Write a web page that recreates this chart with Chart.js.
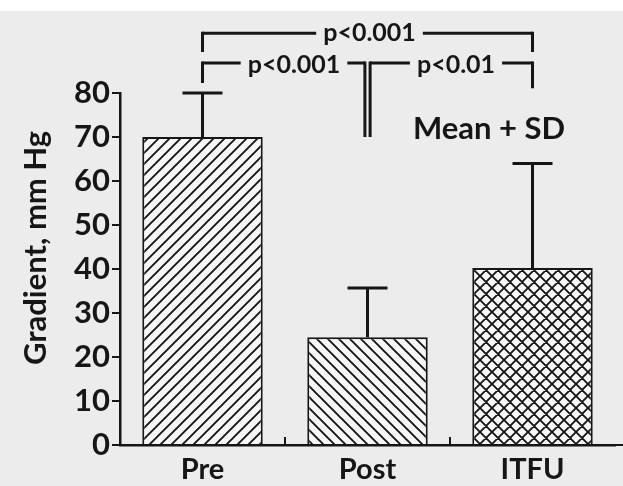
<!DOCTYPE html>
<html>
<head>
<meta charset="utf-8">
<script src="https://cdn.jsdelivr.net/npm/chart.js@4"></script>
<style>
  html, body { margin: 0; padding: 0; }
  body { width: 623px; height: 486px; background: linear-gradient(#ffffff 0, #ffffff 11px, #ececec 11px); }
</style>
</head>
<body>
<canvas id="gradientChart" width="623" height="486"></canvas>
<script>
// values (mm Hg)
const groups = ["Pre", "Post", "ITFU"];
const meanGradient = [70, 24.5, 40.2];
const sdGradient = [10, 11.2, 23.8];
const yTickLabels = [0, 10, 20, 30, 40, 50, 60, 70, 80];
// [from group, to group, label]
const comparisons = [
    [0, 2, "p<0.001"],
    [0, 1, "p<0.001"],
    [1, 2, "p<0.01"]
];
const yTitle = "Gradient, mm Hg";
const legendNote = "Mean + SD";

const ink = "#161616";
const FONT = "Lato, 'Open Sans', sans-serif";

function hatch(kind, period) {
    const c = document.createElement("canvas");
    c.width = period;
    c.height = period;
    const g = c.getContext("2d");
    g.fillStyle = "#f7f7f7";
    g.fillRect(0, 0, period, period);
    g.strokeStyle = ink;
    g.lineWidth = 1.9;
    const p = period;
    g.beginPath();
    if (kind === "up" || kind === "cross") {
        g.moveTo(-2, p + 2); g.lineTo(p + 2, -2);
        g.moveTo(-2, 2); g.lineTo(2, -2);
        g.moveTo(p - 2, p + 2); g.lineTo(p + 2, p - 2);
    }
    if (kind === "down" || kind === "cross") {
        g.moveTo(-2, -2); g.lineTo(p + 2, p + 2);
        g.moveTo(p - 2, -2); g.lineTo(p + 2, 2);
        g.moveTo(-2, p - 2); g.lineTo(2, p + 2);
    }
    g.stroke();
    return g.createPattern(c, "repeat");
}

const overlay = {
    id: "overlay",
    afterDatasetsDraw(chart) {
        const { ctx, chartArea } = chart;
        const x = chart.scales.x, y = chart.scales.y;
        ctx.save();
        ctx.strokeStyle = ink;
        ctx.fillStyle = ink;

        // error bars (mean + SD)
        ctx.lineWidth = 3;
        meanGradient.forEach((m, i) => {
            const cx = x.getPixelForValue(i);
            const y0 = y.getPixelForValue(m);
            const y1 = y.getPixelForValue(m + sdGradient[i]);
            ctx.beginPath();
            ctx.moveTo(cx, y0); ctx.lineTo(cx, y1);
            ctx.moveTo(cx - 20, y1); ctx.lineTo(cx + 20, y1);
            ctx.stroke();
        });

        // small inward ticks between categories, axis line to the edge
        ctx.lineWidth = 2;
        for (let i = 0; i < groups.length - 1; i++) {
            const bx = (x.getPixelForValue(i) + x.getPixelForValue(i + 1)) / 2;
            ctx.beginPath();
            ctx.moveTo(bx, chartArea.bottom);
            ctx.lineTo(bx, chartArea.bottom - 8);
            ctx.stroke();
        }
        ctx.beginPath();
        ctx.moveTo(chartArea.right - 2, chartArea.bottom);
        ctx.lineTo(chart.width, chartArea.bottom);
        ctx.stroke();

        // y axis title, a little above the axis middle as in the figure
        ctx.save();
        ctx.translate(36, 248);
        ctx.rotate(-Math.PI / 2);
        ctx.font = "bold 31px " + FONT;
        ctx.textAlign = "center";
        ctx.textBaseline = "middle";
        ctx.fillText(yTitle, 0, 0);
        ctx.restore();

        // significance brackets
        ctx.lineWidth = 3;
        ctx.font = "bold 25px " + FONT;
        ctx.textAlign = "center";
        ctx.textBaseline = "alphabetic";
        const px = i => x.getPixelForValue(i);
        const py = v => y.getPixelForValue(v);

        function gapLine(x1, x2, yy, label, cx, baseOff) {
            const w = ctx.measureText(label).width;
            const gl = cx - w / 2 - 7, gr = cx + w / 2 + 7;
            ctx.beginPath();
            ctx.moveTo(x1, yy); ctx.lineTo(gl, yy);
            ctx.moveTo(gr, yy); ctx.lineTo(x2, yy);
            ctx.stroke();
            ctx.fillText(label, cx, yy + baseOff);
        }

        // overall comparison
        const [a0, b0, l0] = comparisons[0];
        const yTop = py(93.6), yTopDrop = py(89.3);
        ctx.beginPath();
        ctx.moveTo(px(a0), yTopDrop); ctx.lineTo(px(a0), yTop - 1.5);
        ctx.moveTo(px(b0), yTop - 1.5); ctx.lineTo(px(b0), yTopDrop);
        ctx.stroke();
        gapLine(px(a0), px(b0), yTop, l0, (px(a0) + px(b0)) / 2 + 2, 8);

        // pairwise comparisons sharing the middle bar
        const [a1, b1, l1] = comparisons[1];
        const [a2, b2, l2] = comparisons[2];
        const yRow = py(86.8);
        const mid = px(b1);
        ctx.beginPath();
        ctx.moveTo(px(a1), py(82.3)); ctx.lineTo(px(a1), yRow - 1.5);
        ctx.moveTo(mid - 2.6, yRow - 1.5); ctx.lineTo(mid - 2.6, py(70));
        ctx.moveTo(mid + 2.6, yRow - 1.5); ctx.lineTo(mid + 2.6, py(70));
        ctx.moveTo(px(b2), yRow - 1.5); ctx.lineTo(px(b2), py(81.1));
        ctx.stroke();
        gapLine(px(a1), mid - 2.6, yRow, l1, (px(a1) + mid) / 2 + 9, 10);
        gapLine(mid + 2.6, px(b2), yRow, l2, (mid + px(b2)) / 2 + 6, 10);

        // note
        ctx.font = "bold 31px " + FONT;
        ctx.fillText(legendNote, (px(1) + px(2)) / 2 + 39, py(69.5));
        ctx.restore();
    }
};

Chart.defaults.font.family = FONT;
Chart.defaults.font.weight = "bold";
Chart.defaults.color = ink;

new Chart(document.getElementById("gradientChart").getContext("2d"), {
    type: "bar",
    data: {
        labels: groups,
        datasets: [{
            label: "Gradient",
            data: meanGradient,
            backgroundColor: [hatch("up", 11), hatch("down", 11), hatch("cross", 12)],
            borderColor: ink,
            borderWidth: 2,
            barPercentage: 0.73,
            categoryPercentage: 1
        }]
    },
    options: {
        responsive: false,
        animation: false,
        layout: { padding: { top: 93, right: 8, left: 0, bottom: 0 } },
        plugins: { legend: { display: false }, tooltip: { enabled: false } },
        scales: {
            x: {
                grid: { display: false, drawTicks: false },
                border: { display: true, color: ink, width: 2.5 },
                ticks: { font: { size: 29, weight: "bold" }, padding: 7, color: ink },
                afterFit: s => { s.height = 41; }
            },
            y: {
                min: 0,
                max: 80,
                ticks: {
                    stepSize: 5,
                    font: { size: 31, weight: "bold" },
                    padding: 2,
                    color: ink,
                    callback: v => yTickLabels.includes(v) ? v : ""
                },
                grid: { drawOnChartArea: false, tickLength: 8, color: ink, lineWidth: 2 },
                border: { display: true, color: ink, width: 2.5 },
                afterFit: s => { s.width = 120; }
            }
        }
    },
    plugins: [overlay]
});
</script>
</body>
</html>
